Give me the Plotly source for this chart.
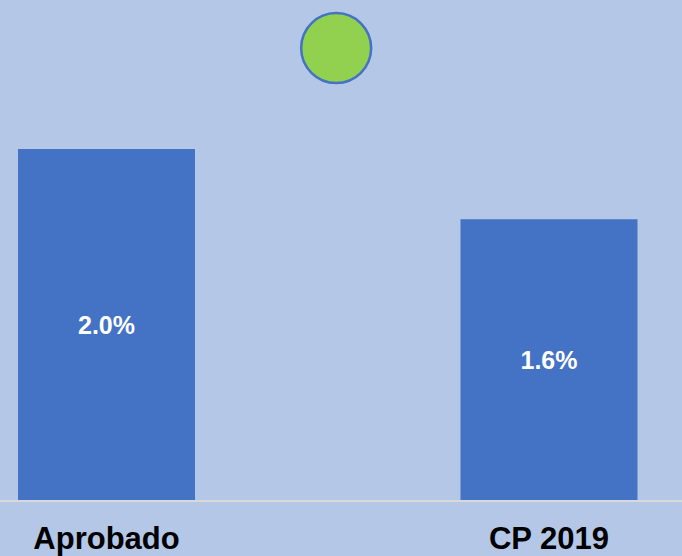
import plotly.graph_objects as go

categories = ["Aprobado", "CP 2019"]
values = [2.0, 1.6]
value_labels = ["2.0%", "1.6%"]
bubble_x = [0.519]
bubble_y = [2.575]

BG = "#b4c7e7"
BAR = "#4472c4"

fig = go.Figure()
fig.add_trace(go.Bar(
    x=[0, 1], y=values, width=0.4,
    marker=dict(color=BAR, line=dict(width=0)),
    text=value_labels, textposition="inside", insidetextanchor="middle",
    textangle=0,
    textfont=dict(family="Liberation Sans, Arial", size=25, color="white", weight="bold"),
    hoverinfo="skip",
))
fig.add_trace(go.Scatter(
    x=bubble_x, y=bubble_y, mode="markers",
    marker=dict(size=70, color="#92d050", line=dict(color=BAR, width=2.5)),
    hoverinfo="skip",
))

fig.update_layout(
    width=682, height=556,
    margin=dict(l=0, r=0, t=0, b=56),
    paper_bgcolor=BG, plot_bgcolor=BG,
    showlegend=False,
    xaxis=dict(
        range=[-0.2407, 1.3006], tickvals=[0, 1], ticktext=categories,
        showgrid=False, zeroline=False, showline=True, linecolor="#d9d9d9", linewidth=2,
        ticks="", tickfont=dict(family="Liberation Sans, Arial", size=31, color="black", weight="bold"),
        ticklabelstandoff=10, automargin=False,
    ),
    yaxis=dict(range=[0, 2.849], visible=False, showgrid=False, zeroline=False, automargin=False),
)

fig.write_html(
    "out.html",
    config={"displayModeBar": False},
    post_script="document.body.style.margin='0';document.body.style.padding='0';document.body.style.overflow='hidden';",
)
